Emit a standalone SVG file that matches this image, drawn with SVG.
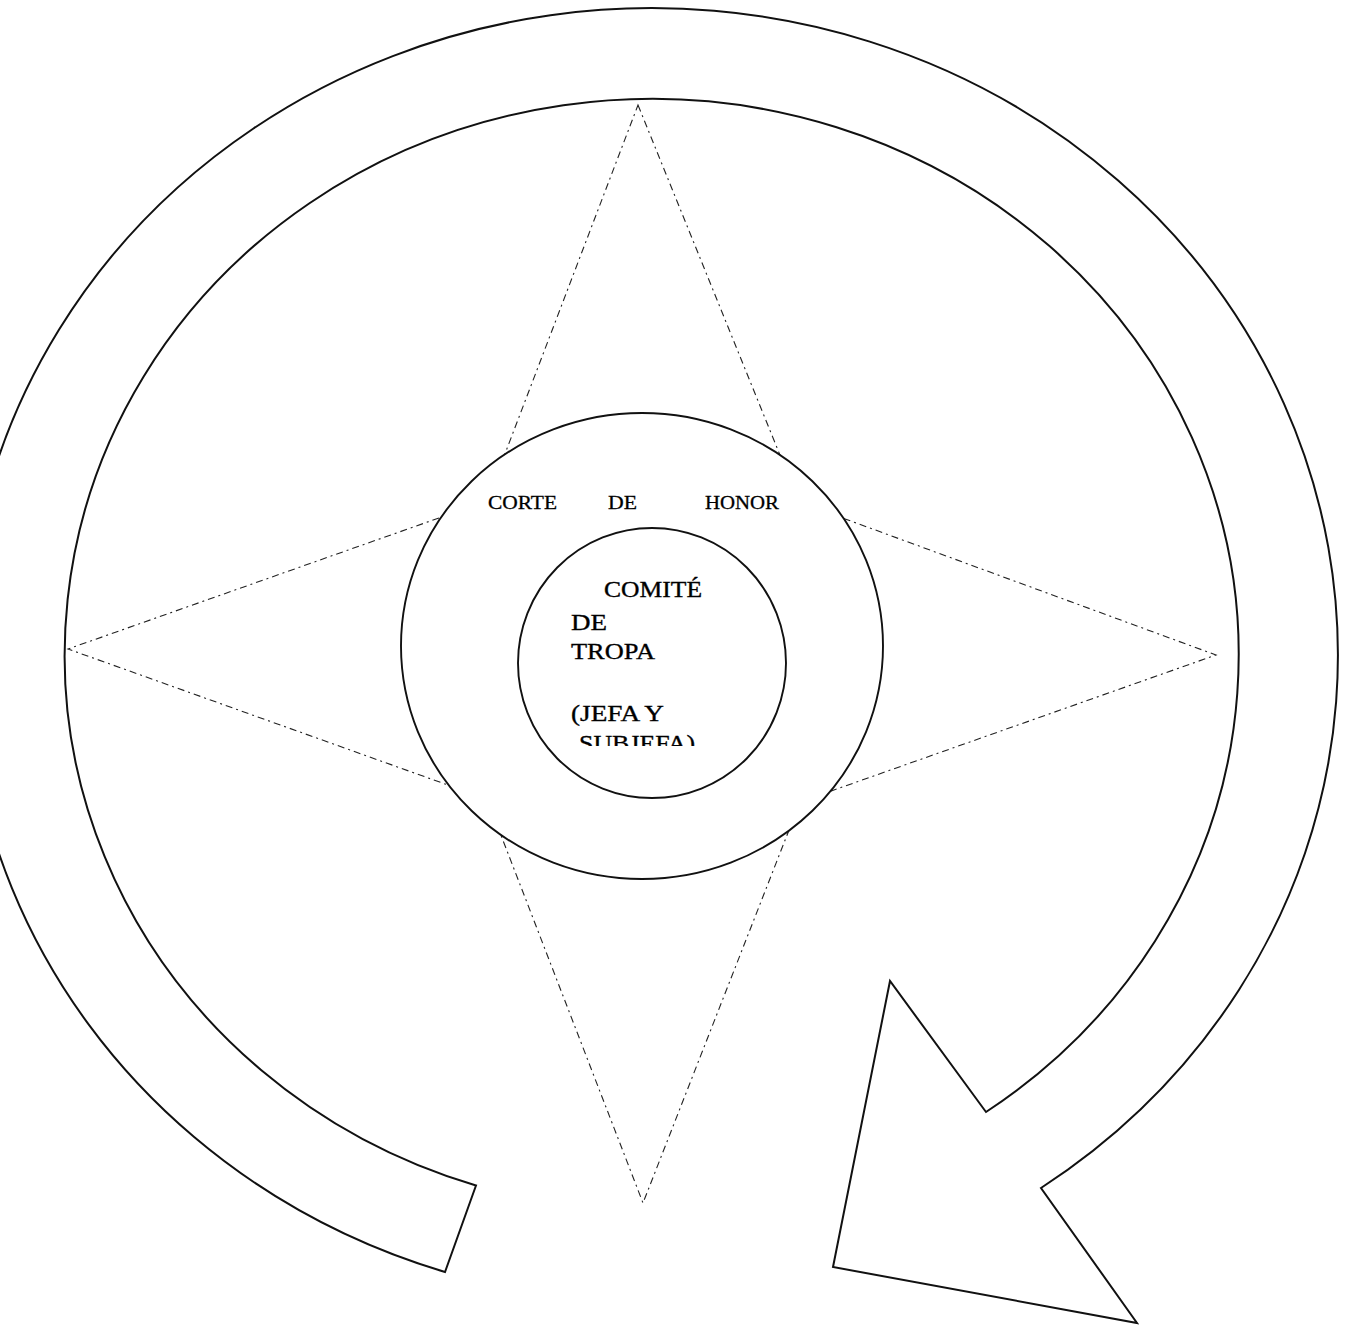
<svg xmlns="http://www.w3.org/2000/svg" width="1352" height="1326" viewBox="0 0 1352 1326">
  <style>
    .ln { fill: none; stroke: #111; stroke-width: 2; stroke-linejoin: miter; }
    .disc { fill: #fff; stroke: #111; stroke-width: 1.9; }
    .dash { fill: none; stroke: #222; stroke-width: 1.1; stroke-dasharray: 7 4 2 4; }
    .t1 { font-family: "Liberation Serif", "Times New Roman", serif; font-size: 19.5px; fill: #000; stroke: #000; stroke-width: 0.3; }
    .t2 { font-family: "Liberation Serif", "Times New Roman", serif; font-size: 24px; fill: #000; stroke: #000; stroke-width: 0.35; }
  </style>
  <defs>
    <clipPath id="cutText">
      <rect x="540" y="700" width="220" height="46"/>
    </clipPath>
  </defs>
  <rect width="1352" height="1326" fill="#fff"/>

  <g id="estrella">
    <polygon class="dash" points="638,105 799,502 1216,655 800,802 643,1203 487,799 68,649 487,501"/>
  </g>

  <g id="connectors">
    <path id="ciclo" class="ln" d="M 476,1185.5 A 587 556 0 1 1 986,1112 L 890,981 L 833,1267 L 1137,1323 L 1041,1188 A 686 647 0 1 0 445,1272 Z"/>
  </g>

  <g id="corte-de-honor">
    <ellipse class="disc" cx="642" cy="646" rx="241" ry="233"/>
    <text class="t1" x="488" y="509" textLength="69" lengthAdjust="spacingAndGlyphs">CORTE</text>
    <text class="t1" x="608" y="509" textLength="29" lengthAdjust="spacingAndGlyphs">DE</text>
    <text class="t1" x="705" y="509" textLength="74" lengthAdjust="spacingAndGlyphs">HONOR</text>
  </g>

  <g id="comite-de-tropa">
    <ellipse class="disc" cx="652" cy="663" rx="134" ry="135"/>
    <text class="t2" x="604" y="597" textLength="98" lengthAdjust="spacingAndGlyphs">COMITÉ</text>
    <text class="t2" x="571" y="630" textLength="36" lengthAdjust="spacingAndGlyphs">DE</text>
    <text class="t2" x="571" y="659" textLength="84" lengthAdjust="spacingAndGlyphs">TROPA</text>
    <text class="t2" x="571" y="721" textLength="93" lengthAdjust="spacingAndGlyphs">(JEFA Y</text>
    <text class="t2" x="579" y="751" textLength="116" lengthAdjust="spacingAndGlyphs" clip-path="url(#cutText)">SUBJEFA)</text>
  </g>
</svg>
